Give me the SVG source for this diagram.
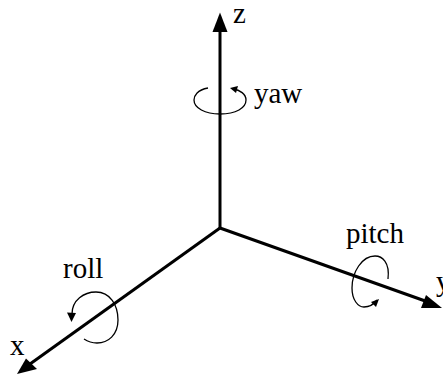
<svg xmlns="http://www.w3.org/2000/svg" width="443" height="374" viewBox="0 0 443 374">
<style>
.ax{fill:none;stroke:#000;stroke-width:3}
.rot{fill:none;stroke:#000;stroke-width:1.3}
.head{fill:#000;stroke:none}
text{font-family:"Liberation Serif","Times New Roman",serif;font-size:29px;fill:#000}
</style>
<g id="connectors">
<path class="ax" d="M220 228V28"/>
<path class="head" d="M220 12.500L227.500 32H212.500Z"/>
<path class="ax" d="M220 228L30 364"/>
<path class="head" d="M17 374L26 358.500L37 369Z"/>
<path class="ax" d="M220 228L428 302"/>
<path class="head" d="M442 308L421 308L426 295Z"/>
</g>
<g id="yaw">
<path class="rot" d="M208 88C197 90 194 96 194 100C194 108 205 114 220 114C236 114 246 108 246 100C246 94 240 90 233 89"/>
<path class="head" d="M230 88L238 86L236 93Z"/>
<text x="254" y="103">yaw</text>
</g>
<g id="roll">
<path class="rot" d="M72 314C72 300 84 292 96 292C110 292 118 305 118 320C118 335 108 343 97 343C92 343 87 341 84 339"/>
<path class="head" d="M71.500 322L67 312.500L76 313Z"/>
<text x="63" y="278">roll</text>
</g>
<g id="pitch">
<path class="rot" d="M388 279C390 262 382 256 375 256C362 256 352 272 352 288C352 300 358 307 364 307C370 307 374 304 377 300"/>
<path class="head" d="M379 299L371 302L376 307Z"/>
<text x="346" y="243">pitch</text>
</g>
<g id="x-label"><text x="10" y="355">x</text></g>
<g id="y-label"><text x="436" y="291">y</text></g>
<g id="z-label"><text x="233" y="23">z</text></g>
</svg>
